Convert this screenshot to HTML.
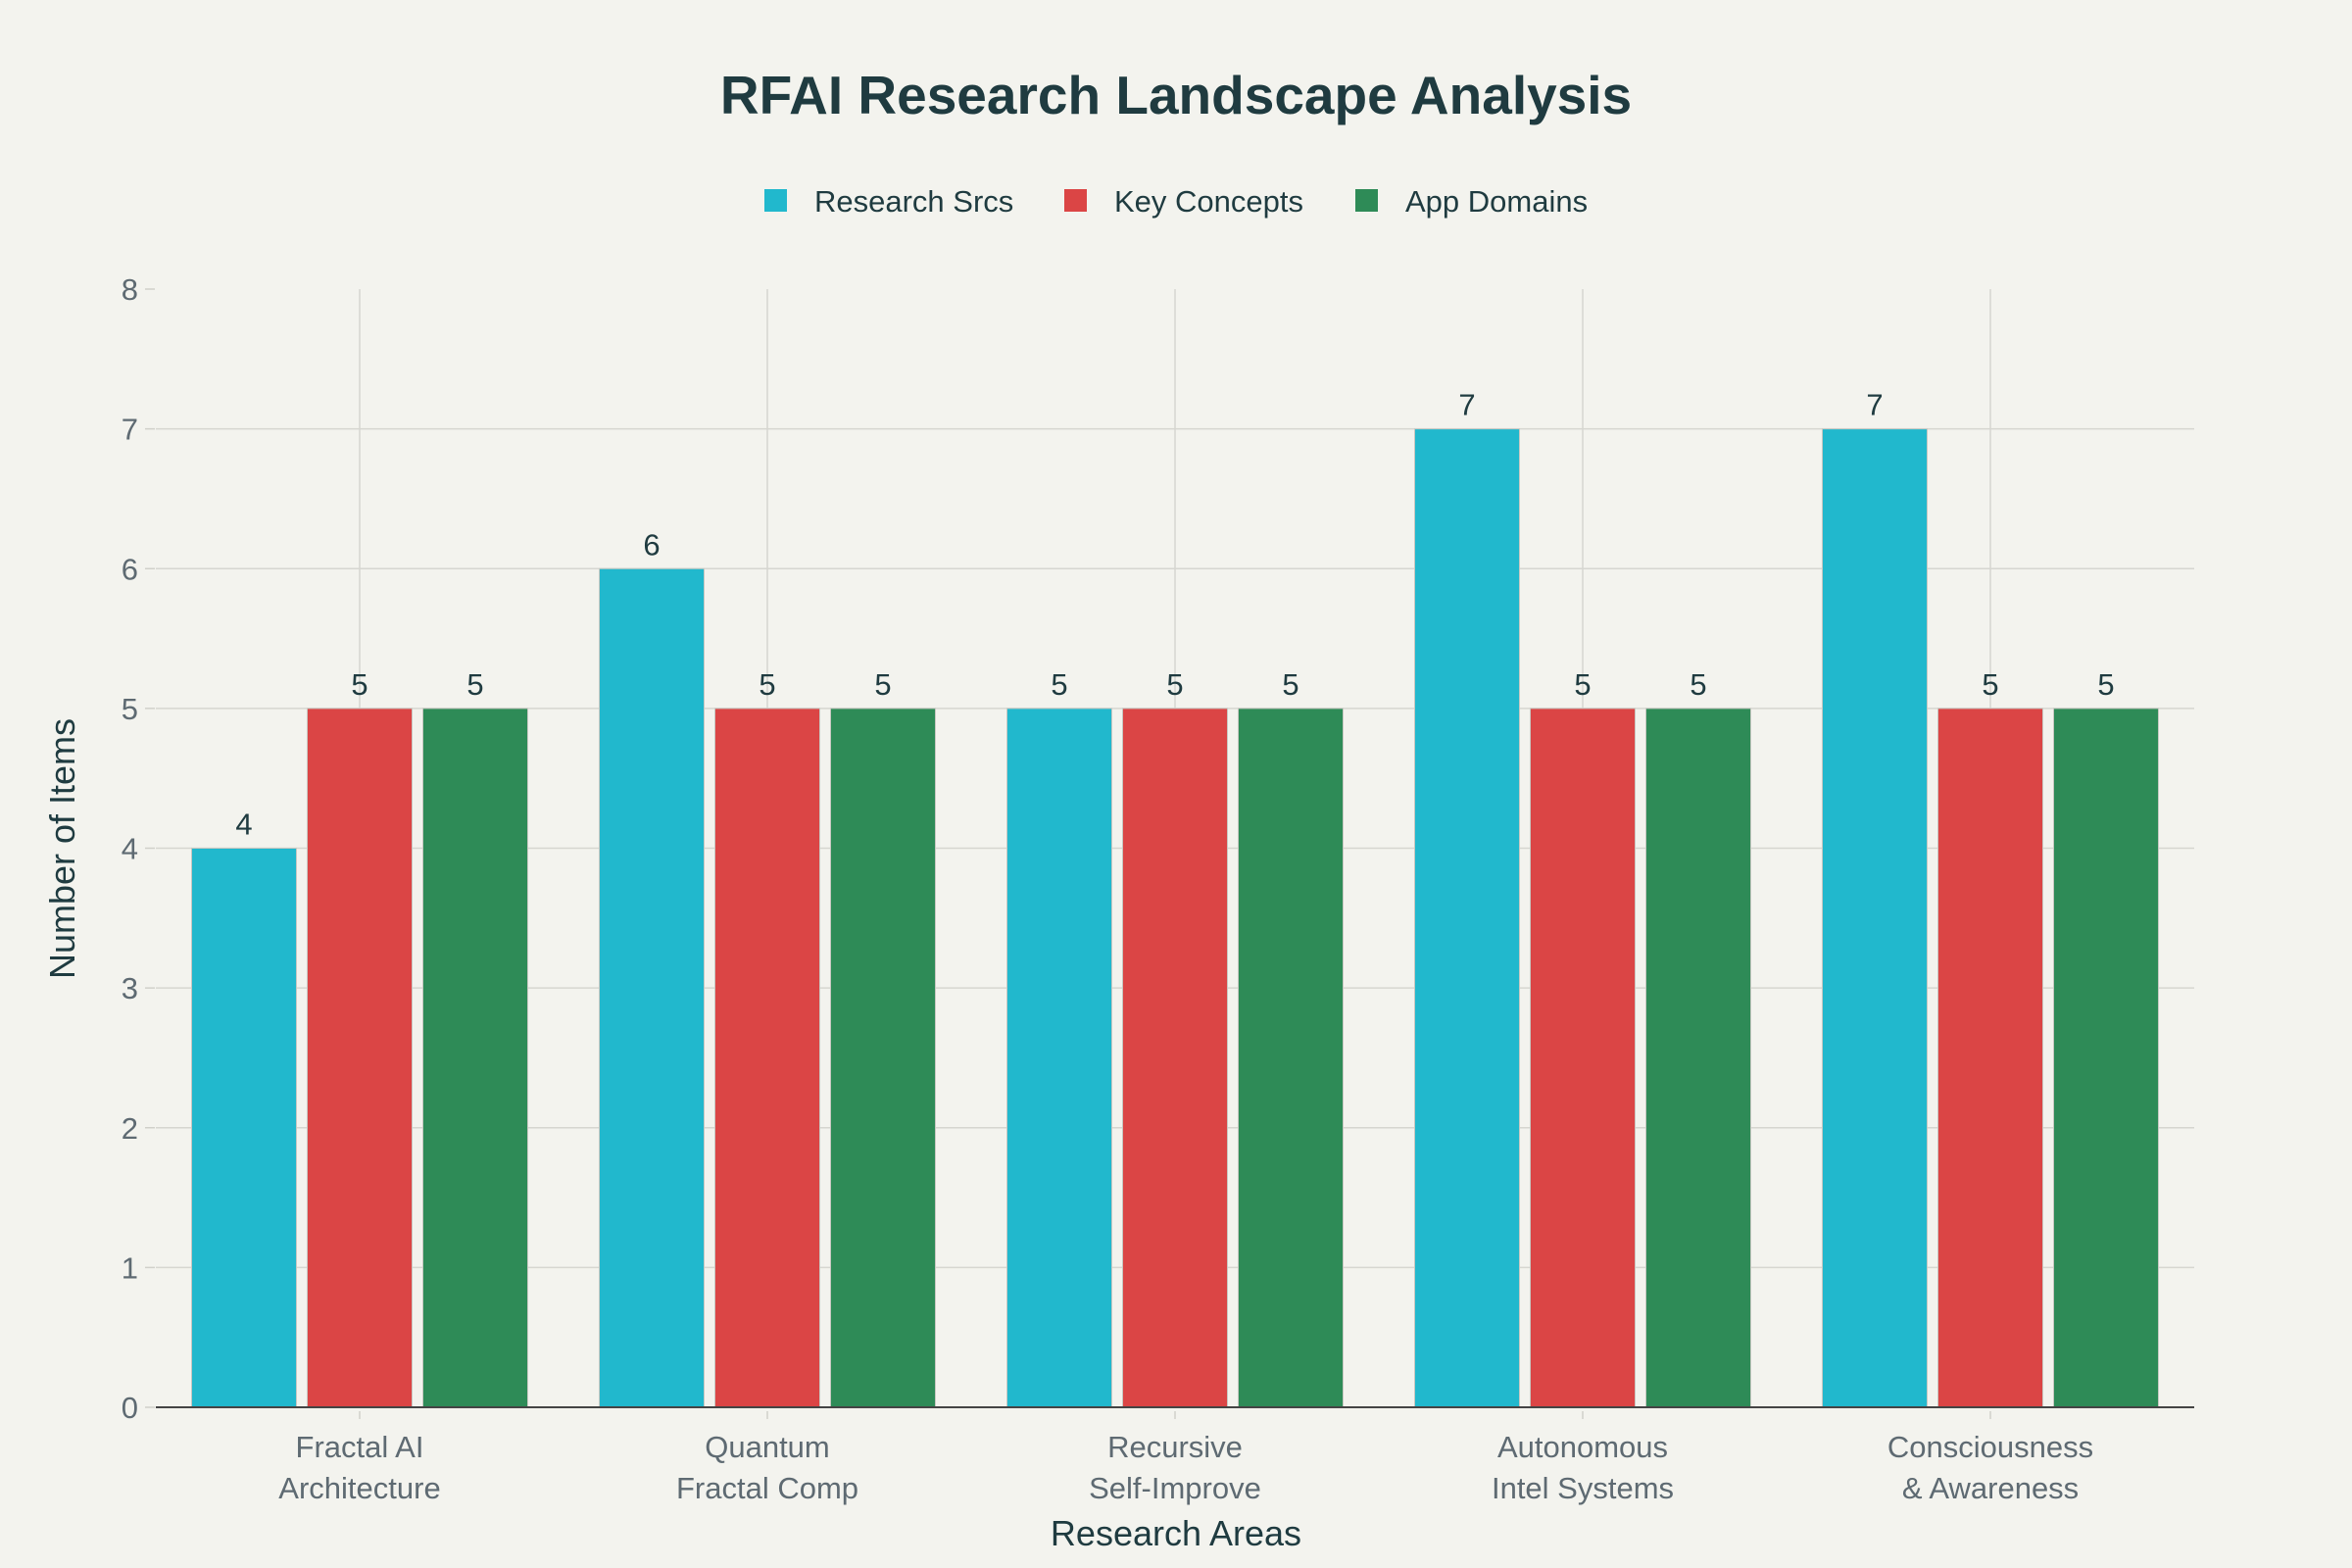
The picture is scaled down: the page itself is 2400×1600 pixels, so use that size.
<!DOCTYPE html>
<html><head><meta charset="utf-8"><style>
html,body{margin:0;padding:0;background:#F3F3EE;}
svg{display:block;font-family:"Liberation Sans",sans-serif;}
</style></head><body>
<svg id="chart" width="2400" height="1600" viewBox="0 0 2400 1600">
<rect width="2400" height="1600" fill="#F3F3EE"/>
<text x="1200" y="116" text-anchor="middle" font-size="55" font-weight="bold" fill="#1F3B40">RFAI Research Landscape Analysis</text>
<g id="legend"></g>
<g id="grid"></g>
<g id="bars"></g>
<g id="axes"></g>
<text x="1200" y="1577" text-anchor="middle" font-size="36" fill="#1F3B40">Research Areas</text>
<text transform="translate(76,866) rotate(-90)" text-anchor="middle" font-size="36" fill="#1F3B40">Number of Items</text>
</svg>
<script>
const categories = [["Fractal AI","Architecture"],["Quantum","Fractal Comp"],["Recursive","Self-Improve"],["Autonomous","Intel Systems"],["Consciousness","& Awareness"]];
const seriesNames = ["Research Srcs","Key Concepts","App Domains"];
const researchSrcs = [4,6,5,7,7];
const keyConcepts = [5,5,5,5,5];
const appDomains = [5,5,5,5,5];
const yTicks = [0,1,2,3,4,5,6,7,8];

const NS="http://www.w3.org/2000/svg";
const colors=["#21B8CD","#DB4545","#2E8B57"];
const series=[researchSrcs,keyConcepts,appDomains];
const L=159,R=2239,T=295,B=1436,yMax=8;
const catW=(R-L)/categories.length;
const barW=107,step=118;
function y(v){return B-(v/yMax)*(B-T);}
function xc(i){return L+catW*(i+0.5);}
function mk(tag,attrs,parent){const e=document.createElementNS(NS,tag);for(const k in attrs)e.setAttribute(k,attrs[k]);parent.appendChild(e);return e;}
const grid=document.getElementById('grid'),bars=document.getElementById('bars'),axes=document.getElementById('axes'),legend=document.getElementById('legend');
yTicks.forEach(t=>{
  if(t>0&&t<yMax){const l=mk('line',{x1:L,x2:R,y1:y(t),y2:y(t),stroke:'#D6D6D0','stroke-width':1.5},grid);
  
  }
  const tm=mk('line',{x1:148,x2:158,y1:y(t),y2:y(t),stroke:'#D0D0CA','stroke-width':1.5},axes);
  
  
  const tx=mk('text',{x:141,y:y(t)+11,'text-anchor':'end','font-size':31,fill:'#5E6A72'},axes);
  tx.textContent=t;
  
  
});
categories.forEach((c,i)=>{
  const g=mk('line',{x1:xc(i),x2:xc(i),y1:T,y2:B,stroke:'#D6D6D0','stroke-width':1.5},grid);
  
  
  const tk=mk('line',{x1:xc(i),x2:xc(i),y1:B+4,y2:B+12,stroke:'#D0D0CA','stroke-width':1.5},axes);
  
  
  c.forEach((ln,j)=>{
    const t=mk('text',{x:xc(i),y:1487+j*42,'text-anchor':'middle','font-size':31,fill:'#5E6A72'},axes);
    t.textContent=ln;
    
    
  });
  series.forEach((s,k)=>{
    const cx=xc(i)+(k-1)*step;
    const b=mk('rect',{x:cx-barW/2,y:y(s[i]),width:barW,height:B-y(s[i]),fill:colors[k],stroke:'#C8C8C2','stroke-width':1},bars);
    
    
    const v=mk('text',{x:cx,y:y(s[i])-14,'text-anchor':'middle','font-size':31,fill:'#1F3B40'},bars);
    v.textContent=s[i];
    
    
  });
});
const ax=mk('line',{x1:L,x2:R,y1:B,y2:B,stroke:'#444','stroke-width':2},axes);


const lx=[780,1086,1383];
seriesNames.forEach((n,k)=>{
  const r=mk('rect',{x:lx[k],y:193,width:23,height:23,fill:colors[k]},legend);
  
  
  const t=mk('text',{x:lx[k]+51,y:216,'font-size':31,fill:'#1F3B40'},legend);
  t.textContent=n;
  
  
});
</script>
</body></html>
